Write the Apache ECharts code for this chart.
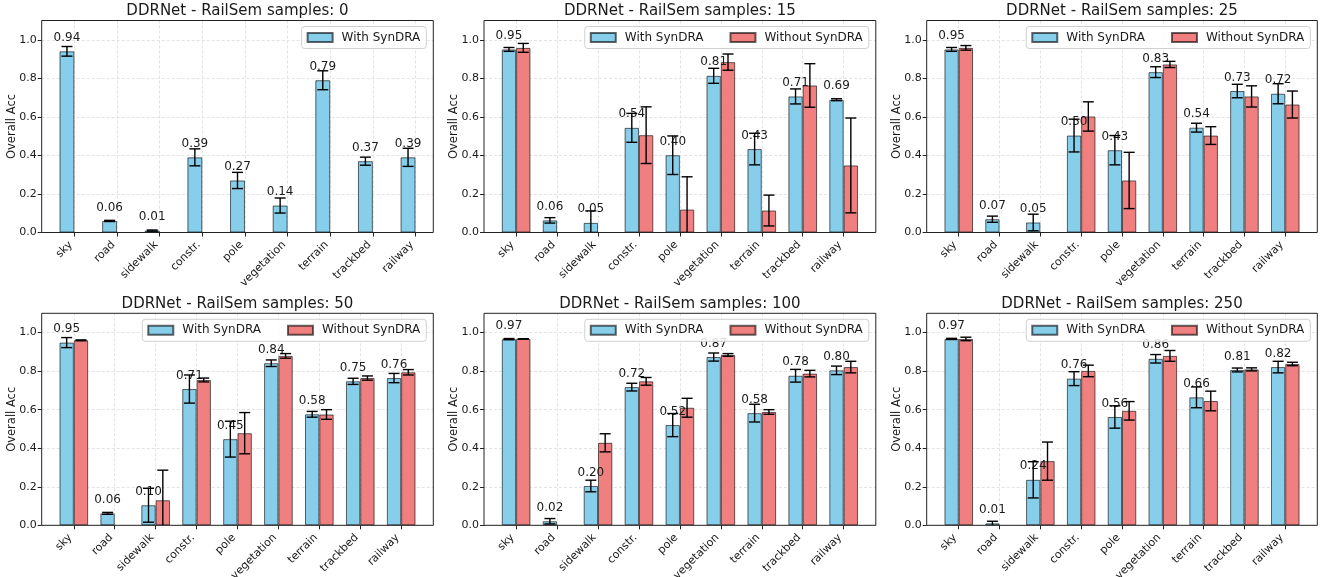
<!DOCTYPE html>
<html><head><meta charset="utf-8">
<script src="https://cdn.jsdelivr.net/npm/echarts@6/dist/echarts.min.js"></script>
<style>html,body{margin:0;padding:0;background:#fff}#c{width:1322px;height:577px}</style>
</head><body><div id="c"></div><script>
// ---------------- data ----------------
const categories = ['sky', 'road', 'sidewalk', 'constr.', 'pole', 'vegetation', 'terrain', 'trackbed', 'railway'];
const sampleCounts = [0, 15, 25, 50, 100, 250];
const yTicks = [0, 0.2, 0.4, 0.6, 0.8, 1.0];
const seriesNames = ['With SynDRA', 'Without SynDRA'];

const withSyn0      = [0.94, 0.06, 0.01, 0.39, 0.27, 0.14, 0.79, 0.37, 0.39];
const withSynErr0   = [0.025, 0.003, 0.003, 0.044, 0.042, 0.039, 0.049, 0.021, 0.047];

const withSyn15       = [0.95, 0.063, 0.05, 0.543, 0.401, 0.813, 0.433, 0.706, 0.689];
const withSynErr15    = [0.01, 0.014, 0.062, 0.075, 0.10, 0.039, 0.082, 0.039, 0.005];
const withoutSyn15    = [0.958, 0, 0, 0.505, 0.119, 0.884, 0.114, 0.763, 0.348];
const withoutSynErr15 = [0.023, 0, 0, 0.147, 0.17, 0.042, 0.08, 0.113, 0.246];

const withSyn25       = [0.95, 0.069, 0.052, 0.503, 0.427, 0.832, 0.544, 0.734, 0.72];
const withSynErr25    = [0.01, 0.016, 0.043, 0.085, 0.076, 0.028, 0.023, 0.035, 0.052];
const withoutSyn25    = [0.958, 0, 0, 0.602, 0.27, 0.872, 0.503, 0.706, 0.664];
const withoutSynErr25 = [0.012, 0, 0, 0.076, 0.146, 0.016, 0.046, 0.055, 0.07];

const withSyn50       = [0.948, 0.062, 0.104, 0.707, 0.447, 0.841, 0.576, 0.747, 0.764];
const withSynErr50    = [0.026, 0.005, 0.088, 0.073, 0.093, 0.017, 0.015, 0.016, 0.024];
const withoutSyn50    = [0.96, 0, 0.13, 0.754, 0.478, 0.879, 0.575, 0.764, 0.794];
const withoutSynErr50 = [0.002, 0, 0.156, 0.01, 0.107, 0.012, 0.025, 0.011, 0.014];

const withSyn100       = [0.966, 0.021, 0.204, 0.717, 0.52, 0.873, 0.582, 0.776, 0.804];
const withSynErr100    = [0.003, 0.014, 0.03, 0.02, 0.06, 0.021, 0.046, 0.033, 0.022];
const withoutSyn100    = [0.967, 0, 0.428, 0.747, 0.61, 0.884, 0.588, 0.787, 0.821];
const withoutSynErr100 = [0.001, 0, 0.047, 0.02, 0.049, 0.007, 0.012, 0.017, 0.03];

const withSyn250       = [0.967, 0.01, 0.236, 0.761, 0.562, 0.864, 0.664, 0.806, 0.821];
const withSynErr250    = [0.003, 0.011, 0.094, 0.036, 0.058, 0.022, 0.054, 0.01, 0.03];
const withoutSyn250    = [0.967, 0, 0.333, 0.801, 0.594, 0.879, 0.645, 0.809, 0.837];
const withoutSynErr250 = [0.009, 0, 0.099, 0.03, 0.048, 0.028, 0.051, 0.008, 0.009];

const withSyn       = [withSyn0, withSyn15, withSyn25, withSyn50, withSyn100, withSyn250];
const withSynErr    = [withSynErr0, withSynErr15, withSynErr25, withSynErr50, withSynErr100, withSynErr250];
const withoutSyn    = [null, withoutSyn15, withoutSyn25, withoutSyn50, withoutSyn100, withoutSyn250];
const withoutSynErr = [null, withoutSynErr15, withoutSynErr25, withoutSynErr50, withoutSynErr100, withoutSynErr250];

// ---------------- layout / style ----------------
const W = 1322;
const FRAME_L = [41.7, 484, 926.7];
const FRAME_R = [433.3, 875.8, 1317.3];
const FRAME_T = [20.5, 313.3];
const FRAME_B = [232.5, 525.3];
const XLIM_SINGLE = [-0.7675, 8.4175];
const XLIM_PAIR = [-0.785, 8.785];
const BAR_FRAC = 0.35;
const CAP_HALF = 5.5;
const BLUE = '#87CEEB', RED = '#F08080';
const EDGE = 'rgba(0,0,0,0.6)';
const FONT = 'DejaVu Sans';
const TXT = '#1a1a1a';
const GRIDLINE = { color: '#e3e3e3', width: 1, type: [3, 2] };

function errRender(side) {
  return function (params, api) {
    const i = api.value(0), v = api.value(1), e = api.value(2);
    if (v === 0 && e === 0) return null;
    const band = api.size([1, 0])[0];
    const c = api.coord([i, v]);
    const x = c[0] + side * BAR_FRAC / 2 * band;
    const yTop = api.coord([i, v + e])[1];
    const low = v - e;
    const yBot = api.coord([i, Math.max(0, low)])[1];
    const st = { stroke: '#000', lineWidth: 1.4 };
    const ch = [
      { type: 'line', shape: { x1: x, y1: yTop, x2: x, y2: yBot }, style: st },
      { type: 'line', shape: { x1: x - CAP_HALF, y1: yTop, x2: x + CAP_HALF, y2: yTop }, style: st }
    ];
    if (low >= 0) ch.push({ type: 'line', shape: { x1: x - CAP_HALF, y1: yBot, x2: x + CAP_HALF, y2: yBot }, style: st });
    return { type: 'group', children: ch };
  };
}
// zero-height bars are invisible in the reference
const barData = arr => arr.map(v => (v === 0 ? '-' : v));

const grid = [], xAxis = [], yAxis = [], series = [], title = [], legend = [];

sampleCounts.forEach((n, p) => {
  const col = p % 3, row = Math.floor(p / 3);
  const fl = FRAME_L[col], fr = FRAME_R[col], ft = FRAME_T[row], fb = FRAME_B[row];
  const fw = fr - fl, fh = fb - ft;
  const xlim = p === 0 ? XLIM_SINGLE : XLIM_PAIR;
  const u = fw / (xlim[1] - xlim[0]);
  const dl = fl + (0 - xlim[0]) * u;
  const dw = (categories.length - 1) * u;
  const gf = 2 * p, gd = 2 * p + 1;

  grid.push({ left: fl, top: ft, width: fw, height: fh, show: true, borderColor: '#222', borderWidth: 1, backgroundColor: 'transparent', z: 5, containLabel: false, outerBoundsMode: 'none' });
  grid.push({ left: dl, top: ft, width: dw, height: fh, show: false, containLabel: false, outerBoundsMode: 'none' });

  xAxis.push({ gridIndex: gf, type: 'value', min: 0, max: 1, show: false });
  xAxis.push({
    gridIndex: gd, type: 'category', data: categories, boundaryGap: false,
    axisLine: { show: false },
    axisTick: { show: true, length: 4, lineStyle: { color: '#222' } },
    axisLabel: { interval: 0, rotate: 45, fontSize: 11, color: TXT, fontFamily: FONT, margin: 7, padding: [0, 5, 0, 0] },
    splitLine: { show: true, lineStyle: GRIDLINE }
  });

  yAxis.push({
    gridIndex: gf, type: 'value', min: 0, max: 1.1, interval: 0.2,
    name: 'Overall Acc', nameLocation: 'middle', nameGap: 23.5, nameMoveOverlap: false,
    nameTextStyle: { fontSize: 11.5, color: TXT, fontFamily: FONT },
    axisLine: { show: false },
    axisTick: { show: true, length: 4, lineStyle: { color: '#222' }, customValues: yTicks },
    axisLabel: { fontSize: 11, color: TXT, fontFamily: FONT, margin: 5, customValues: yTicks, formatter: v => v.toFixed(1) },
    splitLine: { show: true, lineStyle: GRIDLINE }
  });
  yAxis.push({ gridIndex: gd, type: 'value', min: 0, max: 1.1, show: false });

  const blue = withSyn[p], blueErr = withSynErr[p];
  const red = withoutSyn[p], redErr = withoutSynErr[p];

  series.push({
    name: seriesNames[0], type: 'bar', xAxisIndex: gd, yAxisIndex: gd,
    data: barData(blue), barWidth: (BAR_FRAC * 100) + '%', barGap: '0%', clip: false, z: 2,
    itemStyle: { color: BLUE, borderColor: EDGE, borderWidth: 1 },
    label: { show: true, position: 'top', distance: 7.5, fontSize: 12, color: TXT, fontFamily: FONT, formatter: q => Number(q.value).toFixed(2) }
  });
  series.push({
    name: seriesNames[1], type: 'bar', xAxisIndex: gd, yAxisIndex: gd,
    data: red ? barData(red) : [], barWidth: (BAR_FRAC * 100) + '%', barGap: '0%', clip: false, z: 2,
    itemStyle: { color: RED, borderColor: EDGE, borderWidth: 1 }
  });
  series.push({
    type: 'custom', xAxisIndex: gd, yAxisIndex: gd, z: 4, silent: true,
    encode: { x: 0, y: 1 },
    data: blue.map((v, i) => [i, v, blueErr[i]]),
    renderItem: errRender(-1)
  });
  if (red) {
    series.push({
      type: 'custom', xAxisIndex: gd, yAxisIndex: gd, z: 4, silent: true,
      encode: { x: 0, y: 1 },
      data: red.map((v, i) => [i, v, redErr[i]]),
      renderItem: errRender(1)
    });
  }

  title.push({
    text: 'DDRNet - RailSem samples: ' + n,
    left: (fl + fr) / 2, top: ft - 16.5, textAlign: 'center', padding: 0,
    textStyle: { fontSize: 15, fontWeight: 'normal', color: TXT, fontFamily: FONT }
  });

  legend.push({
    data: p === 0 ? [seriesNames[0]] : seriesNames,
    right: W - (fr - 7), top: ft + 6,
    orient: 'horizontal', itemWidth: 25, itemHeight: 9, itemGap: 26,
    padding: [5, 6, 5, 5],
    backgroundColor: 'rgba(255,255,255,0.85)', borderColor: '#d0d0d0', borderWidth: 1, borderRadius: 3,
    icon: 'rect', selectedMode: false,
    formatter: name => '{t|' + name + '}',
    textStyle: { fontSize: 12, color: TXT, fontFamily: FONT, rich: { t: { fontSize: 12, color: TXT, fontFamily: FONT, padding: [0, 0, 0, 4] } } }
  });
});

const chart = echarts.init(document.getElementById('c'), null, { renderer: 'canvas' });
chart.setOption({
  animation: false,
  backgroundColor: '#fff',
  textStyle: { fontFamily: FONT },
  title, legend, grid, xAxis, yAxis, series
});
</script></body></html>
